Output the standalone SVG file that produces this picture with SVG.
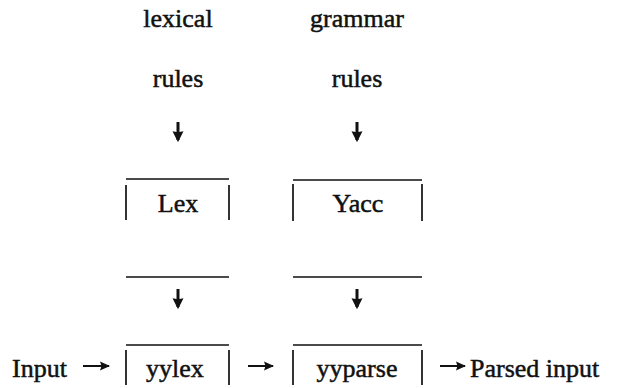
<svg xmlns="http://www.w3.org/2000/svg" width="620" height="388" viewBox="0 0 620 388">
<style>
text{font-family:"Liberation Serif","Times New Roman",serif;font-size:26px;fill:#111;stroke:#111;stroke-width:0.5}
.c{text-anchor:middle}
.box{stroke:#111;stroke-width:1.7;fill:none}
.arr{stroke:#111;fill:none}
.down{stroke-width:3}
.right{stroke-width:2}
</style>
<defs>
<marker id="hd" viewBox="0 0 10 10" refX="8" refY="5" markerWidth="11" markerHeight="12" markerUnits="userSpaceOnUse" orient="auto">
<path d="M0,0 L10,5 L0,10 L1,5 z" fill="#111"/>
</marker>
<marker id="hr" viewBox="0 0 10 10" refX="9" refY="5" markerWidth="11" markerHeight="10" markerUnits="userSpaceOnUse" orient="auto">
<path d="M0,0.5 L10,5 L0,9.5 L1.5,5 z" fill="#111"/>
</marker>
</defs>
<rect width="620" height="388" fill="#fff"/>
<g id="lexical-rules"><text class="c" x="178" y="27">lexical</text><text class="c" x="178" y="87">rules</text></g>
<g id="grammar-rules"><text class="c" x="357" y="27">grammar</text><text class="c" x="357" y="87">rules</text></g>
<g id="lex">
<path class="box" d="M126,179 H229 M126,185 V220 M229,185 V220 M126,277 H229"/>
<text class="c" x="178" y="212">Lex</text>
</g>
<g id="yacc">
<path class="box" d="M293,180 H422 M293,184 V221 M422,184 V221 M293,277 H422"/>
<text class="c" x="358" y="212">Yacc</text>
</g>
<g id="input"><text x="12" y="377">Input</text></g>
<g id="yylex">
<path class="box" d="M126,345 H229 M126,350 V385 M229,350 V385"/>
<text class="c" x="175" y="377">yylex</text>
</g>
<g id="yyparse">
<path class="box" d="M293,345 H422 M293,350 V385 M422,350 V385"/>
<text class="c" x="357" y="377">yyparse</text>
</g>
<g id="parsed-input"><text x="470" y="377">Parsed input</text></g>
<g id="connectors">
<path class="arr down" d="M178,122 V140" marker-end="url(#hd)"/>
<path class="arr down" d="M357,122 V140" marker-end="url(#hd)"/>
<path class="arr down" d="M178,289 V307" marker-end="url(#hd)"/>
<path class="arr down" d="M357,289 V307" marker-end="url(#hd)"/>
<path class="arr right" d="M83,366 H109" marker-end="url(#hr)"/>
<path class="arr right" d="M248,366 H273" marker-end="url(#hr)"/>
<path class="arr right" d="M440,366 H465" marker-end="url(#hr)"/>
</g>
</svg>
